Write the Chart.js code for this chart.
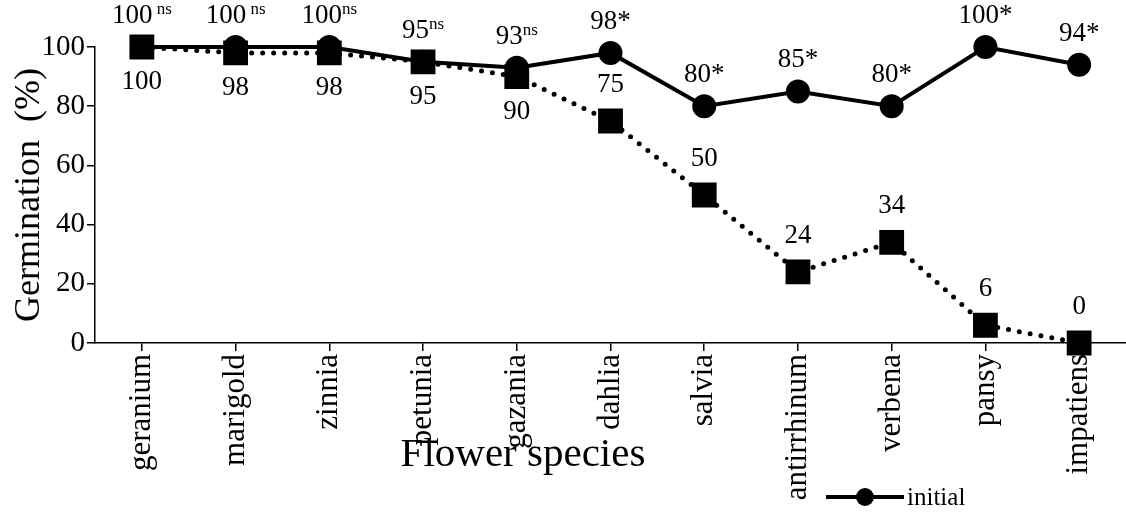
<!DOCTYPE html>
<html>
<head>
<meta charset="utf-8">
<title>Germination</title>
<script src="https://cdn.jsdelivr.net/npm/chart.js@4.4.1/dist/chart.umd.min.js"></script>
<style>
    html, body { margin: 0; padding: 0; background: #fff; }
    #wrap { width: 1126px; height: 515px; }
</style>
</head>
<body>
<div id="wrap"><canvas id="myChart" width="1126" height="515"></canvas></div>
<script>
// data
const categories = ['geranium', 'marigold', 'zinnia', 'petunia', 'gazania', 'dahlia', 'salvia', 'antirrhinum', 'verbena', 'pansy', 'impatiens'];
const initialValues = [100, 100, 100, 95, 93, 98, 80, 85, 80, 100, 94];
const storedValues = [100, 98, 98, 95, 90, 75, 50, 24, 34, 6, 0];
const initialLabels = ['100', '100', '100', '95', '93', '98*', '80*', '85*', '80*', '100*', '94*'];
const initialSup = [' ns', ' ns', 'ns', 'ns', 'ns', '', '', '', '', '', ''];
const storedLabels = ['100', '98', '98', '95', '90', '75', '50', '24', '34', '6', '0'];
const yTicks = [0, 20, 40, 60, 80, 100];

const serif = "'Liberation Serif', 'Times New Roman', serif";

// value labels above / below the points
const valueLabels = {
    id: 'valueLabels',
    afterDatasetsDraw(chart) {
        const ctx = chart.ctx;
        ctx.save();
        ctx.fillStyle = '#000';
        ctx.textBaseline = 'middle';

        let meta = chart.getDatasetMeta(0);
        meta.data.forEach((pt, i) => {
            ctx.font = '27px ' + serif;
            let mainW = ctx.measureText(initialLabels[i]).width;
            ctx.font = '17px ' + serif;
            let supW = ctx.measureText(initialSup[i]).width;
            let x = pt.x - (mainW + supW) / 2;
            let y = pt.y - 31;
            ctx.textAlign = 'left';
            ctx.font = '27px ' + serif;
            ctx.fillText(initialLabels[i], x, y);
            if (initialSup[i]) {
                ctx.font = '17px ' + serif;
                ctx.fillText(initialSup[i], x + mainW, y - 6);
            }
        });

        meta = chart.getDatasetMeta(1);
        ctx.font = '27px ' + serif;
        ctx.textAlign = 'center';
        meta.data.forEach((pt, i) => {
            // first five sit under the line, the rest above
            let y = i < 5 ? pt.y + 35 : pt.y - 36;
            ctx.fillText(storedLabels[i], pt.x, y);
        });
        ctx.restore();
    }
};

// x title and the legend are placed by hand, like the original
const extras = {
    id: 'extras',
    afterDraw(chart) {
        const ctx = chart.ctx;
        ctx.save();
        ctx.fillStyle = '#000';
        ctx.strokeStyle = '#000';
        ctx.textBaseline = 'middle';
        ctx.textAlign = 'center';
        ctx.font = '41px ' + serif;
        ctx.fillText('Flower species', 523, 455);

        // legend: only the first series is shown
        ctx.lineWidth = 4;
        ctx.beginPath();
        ctx.moveTo(826, 497);
        ctx.lineTo(904, 497);
        ctx.stroke();
        ctx.beginPath();
        ctx.arc(865, 497, 9, 0, Math.PI * 2);
        ctx.fill();
        ctx.textAlign = 'left';
        ctx.font = '25px ' + serif;
        ctx.fillText(chart.data.datasets[0].label, 907, 498);
        ctx.restore();
    }
};

const data = {
    labels: categories,
    datasets: [
        {
            label: 'initial',
            data: initialValues,
            borderColor: '#000',
            backgroundColor: '#000',
            borderWidth: 4,
            pointStyle: 'circle',
            pointRadius: 10,
            pointHoverRadius: 10,
            tension: 0,
            clip: false,
            order: 1
        },
        {
            label: 'stored',
            data: storedValues,
            borderColor: '#000',
            backgroundColor: '#000',
            borderWidth: 5,
            borderDash: [0, 11],
            borderCapStyle: 'round',
            pointStyle: 'rect',
            pointRadius: 14,
            pointHoverRadius: 14,
            tension: 0,
            clip: false,
            order: 0
        }
    ]
};

const config = {
    type: 'line',
    data: data,
    options: {
        responsive: false,
        animation: false,
        devicePixelRatio: 1,
        layout: {
            autoPadding: false,
            padding: { top: 47, right: 0, left: 0, bottom: 0 }
        },
        plugins: {
            legend: { display: false },
            tooltip: { enabled: false }
        },
        scales: {
            x: {
                offset: true,
                grid: { offset: false, drawOnChartArea: false, color: '#000', lineWidth: 1.5, tickLength: 8 },
                border: { color: '#000', width: 1.5 },
                ticks: {
                    color: '#000',
                    font: { family: serif, size: 31 },
                    minRotation: 90,
                    maxRotation: 90,
                    autoSkip: false,
                    padding: 3
                },
                afterFit: function (scale) {
                    scale.height = 172;
                    // let the axis run to the right edge like the original
                    scale.paddingLeft = 0;
                    scale.paddingRight = 0;
                }
            },
            y: {
                min: 0,
                max: 100,
                afterBuildTicks: function (scale) {
                    scale.ticks = yTicks.map(v => ({ value: v }));
                },
                grid: { drawOnChartArea: false, color: '#000', lineWidth: 1.5, tickLength: 8 },
                border: { color: '#000', width: 1.5 },
                ticks: {
                    color: '#000',
                    font: { family: serif, size: 29 },
                    padding: 2
                },
                title: {
                    display: true,
                    text: 'Germination  (%)',
                    color: '#000',
                    font: { family: serif, size: 36 },
                    padding: { top: 8, bottom: 0 }
                },
                afterFit: function (scale) {
                    scale.width = 95;
                    scale.paddingTop = 0;
                    scale.paddingBottom = 0;
                }
            }
        }
    },
    plugins: [valueLabels, extras]
};

const myChart = new Chart(document.getElementById('myChart'), config);
</script>
</body>
</html>
